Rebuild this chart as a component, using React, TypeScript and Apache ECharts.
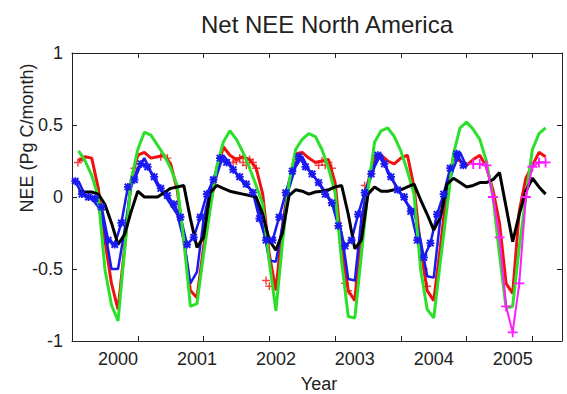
import React, { useEffect, useRef } from "react";
import * as echarts from "echarts";

// x positions are month indices (1 = first month of the record)
const months = [
  1, 2, 3, 4, 5, 6, 7, 8, 9, 10, 11, 12, 13, 14, 15, 16, 17, 18, 19, 20, 21, 22, 23, 24,
  25, 26, 27, 28, 29, 30, 31, 32, 33, 34, 35, 36, 37, 38, 39, 40, 41, 42, 43, 44, 45, 46, 47, 48,
  49, 50, 51, 52, 53, 54, 55, 56, 57, 58, 59, 60, 61, 62, 63, 64, 65, 66, 67, 68, 69, 70, 71, 72,
];

const greenValues = [
  0.32, 0.25, 0.15, 0.0, -0.5, -0.75, -0.86, -0.37, 0.12, 0.33, 0.45, 0.43,
  0.36, 0.29, 0.2, 0.08, -0.3, -0.76, -0.74, -0.4, -0.09, 0.21, 0.38, 0.46,
  0.4, 0.31, 0.2, 0.08, -0.05, -0.45, -0.79, -0.32, 0.1, 0.33, 0.4, 0.44,
  0.42, 0.33, 0.2, 0.03, -0.45, -0.83, -0.84, -0.4, 0.05, 0.38, 0.46, 0.48,
  0.42, 0.32, 0.18, 0.02, -0.5, -0.78, -0.84, -0.45, -0.08, 0.3, 0.48, 0.52,
  0.47, 0.4, 0.25, 0.0, -0.4, -0.77, -0.76, -0.35, 0.0, 0.33, 0.44, 0.48,
];

const redValues = [
  0.25, 0.28, 0.27, 0.06, -0.3, -0.6, -0.78, -0.35, 0.12, 0.29, 0.31, 0.27,
  0.28, 0.29, 0.23, 0.05, -0.3, -0.65, -0.7, -0.35, -0.05, 0.16, 0.35, 0.29,
  0.26, 0.28, 0.26, 0.2, 0.02, -0.4, -0.65, -0.2, 0.1, 0.3, 0.31, 0.27,
  0.24, 0.25, 0.26, 0.1, -0.35, -0.65, -0.72, -0.2, 0.1, 0.28, 0.29, 0.25,
  0.23, 0.27, 0.29, 0.07, -0.35, -0.65, -0.72, -0.35, 0.05, 0.27, 0.25, 0.22,
  0.26, 0.29, 0.21, 0.05, -0.18, -0.6, -0.67, -0.1, 0.13, 0.22, 0.31, 0.28,
];

const blackValues = [
  0.035, 0.035, 0.035, 0.02, -0.05, -0.18, -0.33, -0.26, -0.1, 0.04, 0.0, 0.0,
  0.0, 0.03, 0.06, 0.07, 0.08, -0.15, -0.35, -0.28, 0.03, 0.08, 0.06, 0.04,
  0.03, 0.02, 0.01, 0.0, -0.12, -0.3, -0.37, -0.25, 0.01, 0.05, 0.04, 0.02,
  0.035, 0.04, 0.05, 0.07, 0.08, -0.12, -0.36, -0.3, 0.02, 0.07, 0.04, 0.04,
  0.05, 0.05, 0.07, 0.09, -0.02, -0.12, -0.23, -0.14, 0.09, 0.13, 0.1, 0.07,
  0.08, 0.1, 0.1, 0.12, 0.17, -0.07, -0.31, -0.12, 0.04, 0.13, 0.07, 0.02,
];

// blue monthly line (ends after month 60)
const blueLineValues = [
  0.11, 0.01, -0.01, -0.07, -0.23, -0.5, -0.5, -0.23, 0.07, 0.2, 0.27, 0.17,
  0.08, 0.02, -0.05, -0.12, -0.3, -0.6, -0.52, -0.16, 0.05, 0.15, 0.29, 0.23,
  0.16, 0.1, 0.06, 0.0, -0.2, -0.44, -0.45, -0.2, 0.06, 0.21, 0.28, 0.19,
  0.13, 0.07, 0.0, -0.08, -0.25, -0.57, -0.58, -0.15, 0.08, 0.21, 0.3, 0.17,
  0.1, 0.02, -0.05, -0.1, -0.3, -0.55, -0.56, -0.15, 0.05, 0.2, 0.31, 0.21,
];

// blue asterisk series, sampled mid-month
const blueStarMonths = [
  0.5, 1.5, 2.5, 3.5, 4.5, 5.5, 6.5, 7.5, 8.5, 9.5, 10.5, 11.5,
  12.5, 13.5, 14.5, 15.5, 16.5, 17.5, 18.5, 19.5, 20.5, 21.5, 22.5, 23.5,
  24.5, 25.5, 26.5, 27.5, 28.5, 29.5, 30.5, 31.5, 32.5, 33.5, 34.5, 35.5,
  36.5, 37.5, 38.5, 39.5, 40.5, 41.5, 42.5, 43.5, 44.5, 45.5, 46.5, 47.5,
  48.5, 49.5, 50.5, 51.5, 52.5, 53.5, 54.5, 55.5, 56.5, 57.5, 58.5, 59.5,
];
const blueStarValues = [
  0.11, 0.02, 0.0, -0.01, -0.07, -0.3, -0.33, -0.18, 0.07, 0.12, 0.23, 0.21,
  0.14, 0.06, 0.01, -0.05, -0.14, -0.33, -0.28, -0.14, 0.02, 0.12, 0.27, 0.24,
  0.19, 0.14, 0.09, 0.03, -0.15, -0.3, -0.3, -0.14, 0.03, 0.18, 0.28, 0.21,
  0.16, 0.1, 0.02, -0.04, -0.2, -0.34, -0.3, -0.12, 0.03, 0.16, 0.29, 0.23,
  0.14, 0.05, 0.0, -0.1, -0.3, -0.42, -0.32, -0.12, 0.02, 0.2, 0.3, 0.22,
];

// magenta series, months 61..72
const magentaMonths = [61, 62, 63, 64, 65, 66, 67, 68, 69, 70, 71, 72];
const magentaValues = [0.23, 0.23, 0.22, 0.0, -0.28, -0.76, -0.94, -0.6, 0.0, 0.21, 0.24, 0.24];

// scattered red "+" samples visible in the figure
const redPlusMonths = [0.9, 1.6, 9.5, 13.5, 14.5, 24.5, 25, 25.5, 26, 26.5, 27, 27.5, 28, 29.5, 30, 37.5, 38, 38.5, 39, 39.5, 41.5, 42, 44.5, 53.5, 54];
const redPlusValues = [0.24, 0.27, 0.2, 0.28, 0.27, 0.24, 0.25, 0.27, 0.24, 0.22, 0.26, 0.24, 0.2, -0.58, -0.62, 0.22, 0.25, 0.22, 0.24, 0.2, -0.6, -0.65, 0.08, -0.5, -0.62];

const yearLabels = ["2000", "2001", "2002", "2003", "2004", "2005"];
const yearLabelMonths = [7, 19, 31, 43, 55, 67];
const tickMonths = [10, 20, 30, 40, 50, 60, 70];

const titleText = "Net NEE North America";
const xName = "Year";
const yName = "NEE (Pg C/month)";

const FONT = "Liberation Sans, Arial, Helvetica, sans-serif";
const AX = "#222";
const plusPath = "path://M4.1 0H5.9V10H4.1Z M0 4.1H10V5.9H0Z";
const starPath =
  "path://M3.9 0H6.1V10H3.9Z M0 3.9H10V6.1H0Z M0.15 1.85L1.85 0.15L9.85 8.15L8.15 9.85Z M8.15 0.15L9.85 1.85L1.85 9.85L0.15 8.15Z";

const zip = (xs: number[], ys: number[]) => ys.map((y, i) => [xs[i], y]);

export default function App() {
  const ref = useRef<HTMLDivElement>(null);
  useEffect(() => {
    document.body.style.margin = "0";
    const chart = echarts.init(ref.current!, undefined, { renderer: "svg" });
    chart.setOption({
      animation: false,
      grid: { left: 72, right: 5, top: 53, bottom: 53 },
      xAxis: [
        {
          type: "value",
          min: 0,
          max: 74.5,
          position: "bottom",
          axisLine: { show: true, onZero: false, lineStyle: { color: AX, width: 1 } },
          axisTick: { show: true, inside: true, length: 5, lineStyle: { color: AX, width: 1 }, customValues: tickMonths },
          splitLine: { show: false },
          axisLabel: {
            show: true,
            customValues: yearLabelMonths,
            formatter: (v: number) => {
              const i = yearLabelMonths.indexOf(Math.round(v));
              return i >= 0 ? yearLabels[i] : "";
            },
            margin: 9,
            color: AX,
            fontSize: 18,
            fontFamily: FONT,
          },
        },
        {
          type: "value",
          min: 0,
          max: 74.5,
          position: "top",
          axisLine: { show: true, onZero: false, lineStyle: { color: AX, width: 1 } },
          axisTick: { show: true, inside: true, length: 5, lineStyle: { color: AX, width: 1 }, customValues: tickMonths },
          axisLabel: { show: false },
          splitLine: { show: false },
        },
      ],
      yAxis: [
        {
          type: "value",
          min: -1,
          max: 1,
          interval: 0.5,
          position: "left",
          axisLine: { show: true, onZero: false, lineStyle: { color: AX, width: 1 } },
          axisTick: { show: true, inside: true, length: 5, lineStyle: { color: AX, width: 1 } },
          axisLabel: { margin: 9, color: AX, fontSize: 18, fontFamily: FONT },
          splitLine: { show: false },
        },
        {
          type: "value",
          min: -1,
          max: 1,
          interval: 0.5,
          position: "right",
          axisLine: { show: true, onZero: false, lineStyle: { color: AX, width: 1 } },
          axisTick: { show: true, inside: true, length: 5, lineStyle: { color: AX, width: 1 } },
          axisLabel: { show: false },
          splitLine: { show: false },
        },
      ],
      graphic: [
        {
          type: "text",
          x: 327,
          y: 24,
          style: { text: titleText, fontSize: 24, fontFamily: FONT, fill: AX, textAlign: "center", textVerticalAlign: "middle" },
        },
        {
          type: "text",
          x: 319,
          y: 384,
          style: { text: xName, fontSize: 18, fontFamily: FONT, fill: AX, textAlign: "center", textVerticalAlign: "middle" },
        },
        {
          type: "text",
          x: 27,
          y: 138,
          rotation: Math.PI / 2,
          style: { text: yName, fontSize: 18, fontFamily: FONT, fill: AX, textAlign: "center", textVerticalAlign: "middle" },
        },
      ],
      series: [
        {
          name: "red samples",
          type: "scatter",
          data: zip(redPlusMonths, redPlusValues),
          symbol: plusPath,
          symbolSize: 8,
          itemStyle: { color: "#f01010" },
        },
        {
          name: "red",
          type: "line",
          data: zip(months, redValues),
          symbol: "none",
          lineStyle: { color: "#f01010", width: 3 },
        },
        {
          name: "blue",
          type: "line",
          data: zip(months, blueLineValues),
          symbol: "none",
          lineStyle: { color: "#1a1af0", width: 2.5 },
        },
        {
          name: "blue samples",
          type: "line",
          data: zip(blueStarMonths, blueStarValues),
          symbol: starPath,
          symbolSize: 8,
          showSymbol: true,
          itemStyle: { color: "#1a1af0" },
          lineStyle: { color: "#1a1af0", width: 2.5 },
        },
        {
          name: "green",
          type: "line",
          data: zip(months, greenValues),
          symbol: "none",
          lineStyle: { color: "#2be02b", width: 3 },
        },
        {
          name: "black",
          type: "line",
          data: zip(months, blackValues),
          symbol: "none",
          lineStyle: { color: "#000", width: 3 },
        },
        {
          name: "magenta",
          type: "line",
          data: zip(magentaMonths, magentaValues),
          symbol: plusPath,
          symbolSize: 10,
          showSymbol: true,
          itemStyle: { color: "#ff1cff" },
          lineStyle: { color: "#ff1cff", width: 2 },
        },
      ],
    });
    return () => chart.dispose();
  }, []);
  return <div ref={ref} style={{ position: "absolute", left: 0, top: 0, width: 567, height: 394 }} />;
}
